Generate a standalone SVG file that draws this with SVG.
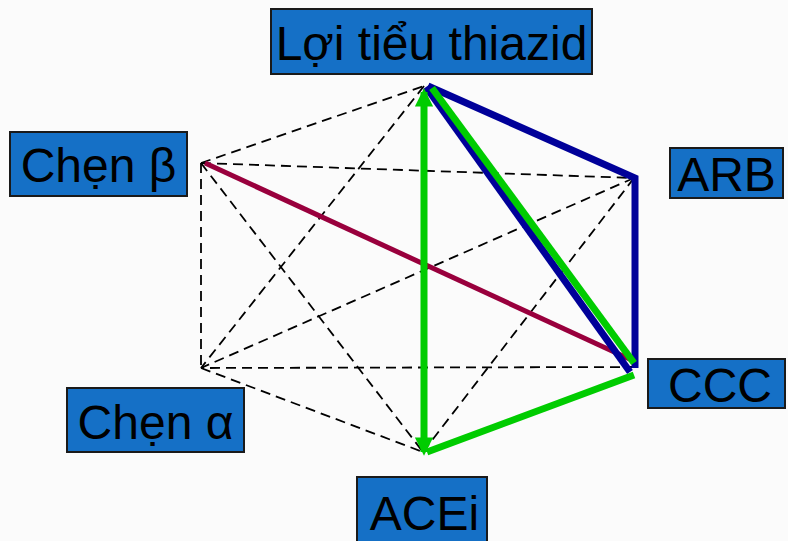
<svg xmlns="http://www.w3.org/2000/svg" width="788" height="541" viewBox="0 0 788 541">
<style>
.box{fill:#1570c6;stroke:#1a1a1a;stroke-width:2}
.lbl{font-family:"Liberation Sans",Arial,sans-serif;font-size:48px;fill:#000}
.dash{stroke:#000;stroke-width:1.8;stroke-dasharray:10 6;fill:none}
.blue{stroke:#000099;stroke-width:7;fill:none;stroke-linejoin:miter}
.green{stroke:#00cc00;stroke-width:7;fill:none}
.red{stroke:#99003d;stroke-width:5;fill:none}
</style>
<defs>
<marker id="ga" viewBox="0 0 10 10" refX="8" refY="5" markerWidth="2.6" markerHeight="2.6" orient="auto-start-reverse" markerUnits="strokeWidth">
<path d="M0,0 L10,5 L0,10 z" fill="#00cc00"/>
</marker>
</defs>
<rect width="788" height="541" fill="#fbfbfb"/>
<g id="connectors">
<line class="dash" x1="201" y1="163" x2="424" y2="86"/>
<line class="dash" x1="201" y1="163" x2="634" y2="178"/>
<line class="dash" x1="201" y1="163" x2="201" y2="368"/>
<line class="dash" x1="201" y1="163" x2="423" y2="452"/>
<line class="dash" x1="424" y1="86" x2="201" y2="368"/>
<line class="dash" x1="634" y1="178" x2="201" y2="368"/>
<line class="dash" x1="634" y1="178" x2="423" y2="452"/>
<line class="dash" x1="636" y1="367" x2="201" y2="368"/>
<line class="dash" x1="201" y1="368" x2="423" y2="452"/>
<line class="red" x1="205" y1="163" x2="636" y2="362"/>
<polyline class="blue" points="428,86 635,178 635,368"/>
<line class="blue" x1="426" y1="87" x2="630" y2="372"/>
<line class="green" x1="432" y1="88" x2="634" y2="363"/>
<polyline class="green" points="634,375 427,452"/>
<line class="green" x1="424" y1="92" x2="424" y2="452" marker-start="url(#ga)" marker-end="url(#ga)"/>
</g>
<g id="node-thiazid">
<rect class="box" x="271" y="9" width="321" height="65"/>
<text class="lbl" x="431.5" y="60" text-anchor="middle">Lợi tiểu thiazid</text>
</g>
<g id="node-beta">
<rect class="box" x="10" y="132" width="177" height="64"/>
<text class="lbl" x="98.5" y="182" text-anchor="middle">Chẹn β</text>
</g>
<g id="node-arb">
<rect class="box" x="670" y="148" width="113" height="50"/>
<text class="lbl" x="726.5" y="191" text-anchor="middle">ARB</text>
</g>
<g id="node-ccc">
<rect class="box" x="648" y="359" width="137" height="49"/>
<text class="lbl" x="720" y="402" text-anchor="middle">CCC</text>
</g>
<g id="node-alpha">
<rect class="box" x="67" y="388" width="177" height="64"/>
<text class="lbl" x="155.5" y="439" text-anchor="middle">Chẹn α</text>
</g>
<g id="node-acei">
<rect class="box" x="357" y="477" width="130" height="70"/>
<text class="lbl" x="424.5" y="530" text-anchor="middle">ACEi</text>
</g>
</svg>
